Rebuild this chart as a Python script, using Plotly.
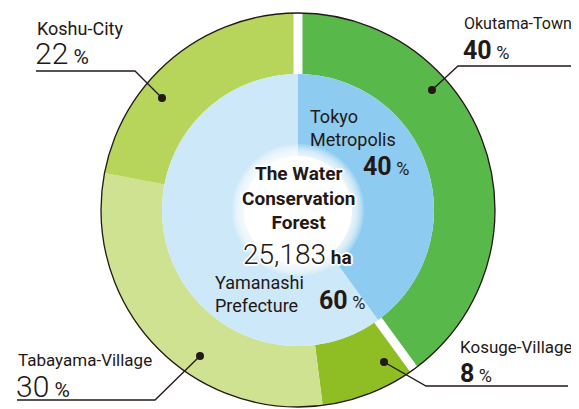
import math
import plotly.graph_objects as go

# ---------------- data ----------------
outer_labels = ["Okutama-Town", "Kosuge-Village", "Tabayama-Village", "Koshu-City"]
outer_values = [40, 8, 30, 22]
outer_colors = ["#59b84a", "#8fbe24", "#cfe291", "#b6d55a"]
outer_tokyo = [True, False, False, False]

inner_labels = ["Tokyo Metropolis", "Yamanashi Prefecture"]
inner_values = [40, 60]
inner_colors = ["#8dccf0", "#cde8f8"]

total_title = ["The Water", "Conservation", "Forest"]
total_value = "25,183"
total_unit = "ha"

# ---------------- geometry (page pixels) ----------------
W, H = 579, 409
OFF = 8  # page body margin
CX, CY = 298, 210
R_OUT, R_IN, R_CORE = 197, 136, 54
INK = "#231815"
FONT = "Roboto, Arial, sans-serif"


def px(x):
    return (x - OFF) / W


def py(y):
    return 1 - (y - OFF) / H


def dom(r):
    return dict(x=[px(CX - r), px(CX + r)], y=[py(CY + r), py(CY - r)])


fig = go.Figure()
fig.add_trace(go.Pie(
    labels=outer_labels, values=outer_values, sort=False, direction="clockwise",
    rotation=0, hole=R_IN / R_OUT, domain=dom(R_OUT),
    marker=dict(colors=outer_colors, line=dict(width=0)),
    textinfo="none", hoverinfo="label+percent", showlegend=False,
))
fig.add_trace(go.Pie(
    labels=inner_labels, values=inner_values, sort=False, direction="clockwise",
    rotation=0, domain=dom(R_IN),
    marker=dict(colors=inner_colors, line=dict(width=0)),
    textinfo="none", hoverinfo="label+percent", showlegend=False,
))

shapes = []
# white gaps around the Tokyo part of the outer ring
tot = sum(outer_values)
cum = 0
bounds = set()
for v, t in zip(outer_values, outer_tokyo):
    a0, a1 = cum / tot * 360, (cum + v) / tot * 360
    if t:
        bounds.update([a0 % 360, a1 % 360])
    cum += v
for a in bounds:
    r = math.radians(a)
    x0, y0 = CX + R_IN * math.sin(r), CY - R_IN * math.cos(r)
    x1, y1 = CX + (R_OUT + 1) * math.sin(r), CY - (R_OUT + 1) * math.cos(r)
    shapes.append(dict(type="line", xref="paper", yref="paper",
                       x0=px(x0), y0=py(y0), x1=px(x1), y1=py(y1),
                       line=dict(color="white", width=9)))

# thin dark outline of the outer ring
shapes.append(dict(type="circle", xref="paper", yref="paper",
                   x0=px(CX - R_OUT), x1=px(CX + R_OUT),
                   y0=py(CY + R_OUT), y1=py(CY - R_OUT),
                   line=dict(color=INK, width=1.3)))

# soft white core
for k in range(8, 0, -1):
    rr = R_CORE + k * 1.5
    shapes.append(dict(type="circle", xref="paper", yref="paper",
                       x0=px(CX - rr), x1=px(CX + rr),
                       y0=py(CY + rr), y1=py(CY - rr),
                       fillcolor="white", opacity=0.18, line=dict(width=0)))
shapes.append(dict(type="circle", xref="paper", yref="paper",
                   x0=px(CX - R_CORE), x1=px(CX + R_CORE),
                   y0=py(CY + R_CORE), y1=py(CY - R_CORE),
                   fillcolor="white", line=dict(width=0)))

# leader lines (dot, elbow, underline end)
leaders = [
    [(162, 98), (135, 71), (36, 71)],      # Koshu
    [(432, 90), (458, 66), (585, 66)],     # Okutama
    [(200, 356), (155, 400), (17, 400)],   # Tabayama
    [(384, 362), (426, 386), (568, 386)],  # Kosuge
]
for pts in leaders:
    d = "M " + " L ".join(f"{px(x)},{py(y)}" for x, y in pts)
    shapes.append(dict(type="path", xref="paper", yref="paper", path=d,
                       line=dict(color=INK, width=1.3)))
    dx, dy = pts[0]
    rd = 4
    shapes.append(dict(type="circle", xref="paper", yref="paper",
                       x0=px(dx - rd), x1=px(dx + rd), y0=py(dy + rd), y1=py(dy - rd),
                       fillcolor=INK, line=dict(width=0)))

ann = []


def label(x, y, text, size, anchor="left", weight="normal", shadow=None):
    f = dict(family=FONT, size=size, color=INK, weight=weight)
    if shadow:
        f["shadow"] = shadow
    ann.append(dict(xref="paper", yref="paper", x=px(x), y=py(y), text=text,
                    showarrow=False, xanchor=anchor, yanchor="middle", font=f,
                    align="center" if anchor == "center" else "left"))


def pct(v, bold, size):
    num = f"<b>{v}</b>" if bold else f"{v}"
    return f"{num}<span style='font-size:{int(size*0.72)}px;font-weight:400'> %</span>"


# outer labels
label(35, 28, outer_labels[3], 18)
label(33, 54, pct(outer_values[3], False, 30), 30, weight=300)
label(462, 24, outer_labels[0], 16)
label(461, 50, pct(outer_values[0], True, 25), 25)
label(16, 360, outer_labels[2], 17)
label(14, 386, pct(outer_values[2], False, 30), 30, weight=300)
label(458, 347, outer_labels[1], 17)
label(458, 373, pct(outer_values[1], True, 25), 25)

# inner labels
label(308, 117, "Tokyo", 18)
label(308, 139, "Metropolis", 18)
label(411, 167, pct(inner_values[0], True, 25), 25, anchor="right")
label(213, 282, "Yamanashi", 18)
label(213, 305, "Prefecture", 18)
label(317, 300, pct(inner_values[1], True, 25), 25)

# centre
halo = ("1px 1px 0 white, -1px -1px 0 white, 1px -1px 0 white, -1px 1px 0 white, "
        "0 2px 0 white, 0 -2px 0 white, 2px 0 0 white, -2px 0 0 white")
ann.append(dict(xref="paper", yref="paper", x=px(CX), y=py(198),
                text="<br>".join(f"<b>{t}</b>" for t in total_title),
                showarrow=False, xanchor="center", yanchor="middle", align="center",
                font=dict(family=FONT, size=19, color=INK, shadow=halo)))
ann.append(dict(xref="paper", yref="paper", x=px(CX - 1), y=py(255),
                text=f"{total_value}<span style='font-size:19px;font-weight:700'> {total_unit}</span>",
                showarrow=False, xanchor="center", yanchor="middle",
                font=dict(family=FONT, size=28, color=INK, weight=300, shadow=halo)))

fig.update_layout(width=W, height=H, margin=dict(l=0, r=0, t=0, b=0),
                  paper_bgcolor="white", plot_bgcolor="white",
                  shapes=shapes, annotations=ann)
fig.write_html("out.html")
